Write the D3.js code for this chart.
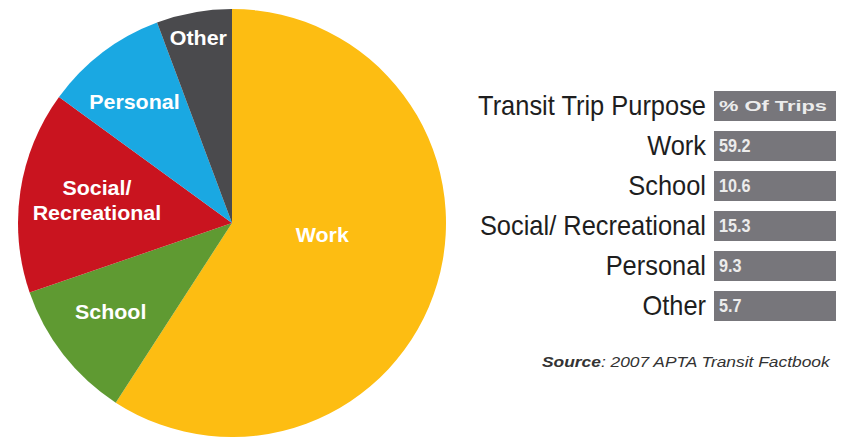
<!DOCTYPE html>
<html>
<head>
<meta charset="utf-8">
<script src="https://cdn.jsdelivr.net/npm/d3@7"></script>
<style>
  html, body { margin: 0; padding: 0; background: #ffffff; }
  svg { display: block; }
</style>
</head>
<body>
<svg id="chart" width="841" height="439"></svg>
<script>
// ---- data ----
const categories = ["Work", "School", "Social/ Recreational", "Personal", "Other"];
const pieLabels = [["Work"], ["School"], ["Social/", "Recreational"], ["Personal"], ["Other"]];
const percentOfTrips = [59.2, 10.6, 15.3, 9.3, 5.7];
const valueLabels = ["59.2", "10.6", "15.3", "9.3", "5.7"];
const tableHeader = ["Transit Trip Purpose", "% Of Trips"];
const sourceBold = "Source";
const sourceText = ":  2007 APTA Transit Factbook";

// ---- styling ----
const colors = ["#fdbd12", "#5f9a32", "#c9141f", "#1aa8e2", "#4a4a4d"];
const labelRadius = [91, 150, 137, 156, 189];
const labelAngleShift = [-9, 2, 1, -1.5, 0]; // degrees

const svg = d3.select("#chart");
const cx = 232, cy = 223, R = 214;

const pie = d3.pie().sort(null).value(d => d);
const arcs = pie(percentOfTrips);
const arc = d3.arc().innerRadius(0).outerRadius(R);

const g = svg.append("g").attr("transform", `translate(${cx},${cy})`);
g.selectAll("path.slice").data(arcs).enter().append("path")
  .attr("class", "slice")
  .attr("d", arc)
  .attr("fill", (d, i) => colors[i]);

// pie labels
const lblFont = "'Liberation Sans', Arial, sans-serif";
arcs.forEach((d, i) => {
  const a = (d.startAngle + d.endAngle) / 2 + labelAngleShift[i] * Math.PI / 180;
  const r = labelRadius[i];
  const x = r * Math.sin(a), y = -r * Math.cos(a);
  const lines = pieLabels[i];
  const lh = 25;
  lines.forEach((line, j) => {
    const yy = y + (j - (lines.length - 1) / 2) * lh;
    g.append("text")
      .attr("transform", `translate(${x},${yy}) scale(1.02,1)`)
      .attr("text-anchor", "middle")
      .attr("dy", "0.36em")
      .attr("fill", "#ffffff")
      .attr("font-family", lblFont)
      .attr("font-weight", "bold")
      .attr("font-size", 21)
      .text(line);
  });
});

// ---- table ----
const rows = [tableHeader[0]].concat(categories);
const rowVals = [tableHeader[1]].concat(valueLabels);
const y = d3.scaleBand().domain(d3.range(rows.length)).range([86, 326]).paddingInner(0.25).paddingOuter(0.125);
const barX0 = 714, barX1 = 836;
const labelRight = 706;

const tg = svg.append("g");
tg.selectAll("rect.bar").data(rows).enter().append("rect")
  .attr("class", "bar")
  .attr("x", barX0)
  .attr("y", (d, i) => y(i))
  .attr("width", barX1 - barX0)
  .attr("height", y.bandwidth())
  .attr("fill", "#77767b");

// measure header label to compute condensed scale
const probe = tg.append("text")
  .attr("font-family", lblFont).attr("font-size", 27).text(tableHeader[0]);
const w0 = probe.node().getComputedTextLength();
probe.remove();
const sx = 228 / w0;

rows.forEach((t, i) => {
  const yc = y(i) + y.bandwidth() / 2;
  tg.append("text")
    .attr("transform", `translate(${labelRight},${yc}) scale(${sx},1)`)
    .attr("text-anchor", "end")
    .attr("dy", "0.35em")
    .attr("fill", "#1e1e1e")
    .attr("font-family", lblFont)
    .attr("font-size", 27)
    .text(t);
  const vt = tg.append("text")
    .attr("dy", "0.36em")
    .attr("fill", "#ececec")
    .attr("font-family", lblFont)
    .attr("font-weight", "bold")
    .attr("font-size", i === 0 ? 15 : 18)
    .text(rowVals[i]);
  let vs = 0.9;
  if (i === 0) vs = 108 / vt.node().getComputedTextLength();
  vt.attr("transform", `translate(${barX0 + 5},${yc}) scale(${vs},1)`);
});

// source line
const src = svg.append("text")
  .attr("font-family", lblFont)
  .attr("font-size", 14)
  .attr("font-style", "italic")
  .attr("fill", "#333333");
src.append("tspan").attr("font-weight", "bold").text(sourceBold);
src.append("tspan").text(sourceText);
const sw = src.node().getComputedTextLength();
const ss = 288 / sw;
src.attr("transform", `translate(${830 - 288},367) scale(${ss},1)`);
</script>
</body>
</html>
